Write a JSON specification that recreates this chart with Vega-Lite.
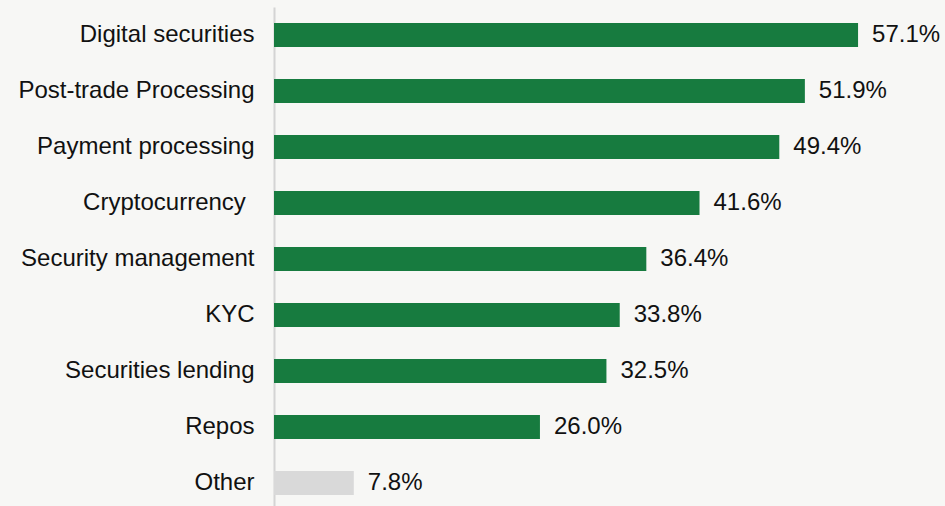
{
  "$schema": "https://vega.github.io/schema/vega-lite/v6.json",
  "autosize": "none",
  "padding": {"left": 274, "top": 7, "right": 0, "bottom": 0},
  "width": 671,
  "height": 504,
  "background": "#f7f7f5",
  "config": {"view": {"stroke": null}, "font": "Liberation Sans"},
  "data": {
    "values": [
      {"category": "Digital securities", "value": 0.571, "group": "main"},
      {"category": "Post-trade Processing", "value": 0.519, "group": "main"},
      {"category": "Payment processing", "value": 0.494, "group": "main"},
      {"category": "Cryptocurrency\u00a0\u200a\u200d", "value": 0.416, "group": "main"},
      {"category": "Security management", "value": 0.364, "group": "main"},
      {"category": "KYC", "value": 0.338, "group": "main"},
      {"category": "Securities lending", "value": 0.325, "group": "main"},
      {"category": "Repos", "value": 0.260, "group": "main"},
      {"category": "Other", "value": 0.078, "group": "other"}
    ]
  },
  "encoding": {
    "y": {
      "field": "category",
      "type": "nominal",
      "sort": null,
      "scale": {"paddingInner": 0.57, "paddingOuter": 0.285},
      "axis": {
        "title": null,
        "ticks": false,
        "labelFontSize": 24,
        "labelColor": "#111111",
        "labelPadding": 20,
        "labelLimit": 400,
        "domainColor": "#d4d4d4",
        "domainWidth": 2,
        "labelFont": "Liberation Sans"
      }
    },
    "x": {
      "field": "value",
      "type": "quantitative",
      "scale": {"domain": [0, 0.656], "nice": false},
      "axis": null
    }
  },
  "layer": [
    {
      "mark": {"type": "bar"},
      "encoding": {
        "color": {
          "field": "group",
          "type": "nominal",
          "scale": {"domain": ["main", "other"], "range": ["#177b3f", "#d9d9d9"]},
          "legend": null
        }
      }
    },
    {
      "mark": {"type": "text", "align": "left", "dx": 14, "fontSize": 24, "color": "#111111", "font": "Liberation Sans"},
      "encoding": {
        "text": {"field": "value", "type": "quantitative", "format": ".1%"}
      }
    }
  ]
}
